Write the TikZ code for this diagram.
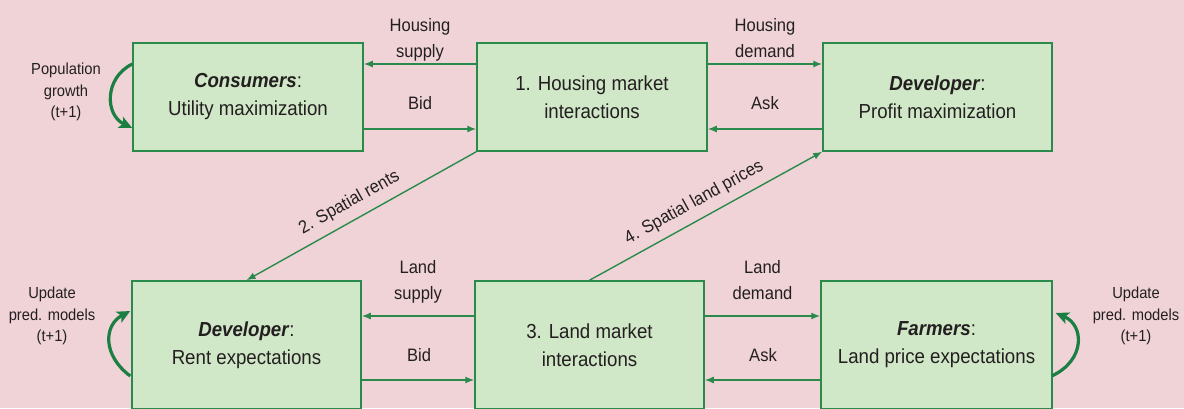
\documentclass[tikz,border=0pt]{standalone}
\usepackage{fontspec}
\setmainfont{Liberation Sans}[FakeStretch=0.92]
\usetikzlibrary{arrows.meta,calc}
\definecolor{bg}{HTML}{F0D3D7}
\definecolor{boxfill}{HTML}{D0E8C7}
\definecolor{boxline}{HTML}{2A8A4C}
\definecolor{loopc}{HTML}{1B7F42}
\definecolor{txt}{HTML}{231F20}
\begin{document}
\begin{tikzpicture}[x=1pt,y=-1pt,
  box/.style={draw=boxline, fill=boxfill, line width=1.5pt, minimum width=230pt,
    minimum height=108pt, inner sep=0pt, align=center,
    font=\fontsize{20.3}{28}\selectfont, text=txt},
  tallbox/.style={box, minimum height=128pt},
  conn/.style={draw=boxline, line width=1.4pt, -{Latex[length=9pt,width=7pt]}},
  loopar/.style={draw=loopc, line width=3.2pt, -{Stealth[length=13pt,width=12pt,inset=3pt]}},
  lbl/.style={font=\fontsize{18}{26}\selectfont, text=txt, align=center},
  side/.style={font=\fontsize{16}{21.5}\selectfont, text=txt, align=center, inner sep=0pt}]
\useasboundingbox (0,0) rectangle (1184,408);
\fill[bg] (0,0) rectangle (1184,408);
\clip (0,0) rectangle (1184,408);

% boxes
\node[box] (cons) at (248,97) {\textbf{\textit{Consumers}}:\\Utility maximization};
\node[box] (hm) at (592,97) {1. Housing market\\interactions};
\node[box, minimum width=229pt] (dev1) at (937.5,97) {\textbf{\textit{Developer}}:\\Profit maximization};
\node[tallbox, minimum width=229pt] (dev2) at (246.5,345) {\textbf{\textit{Developer}}:\\Rent expectations};
\node[tallbox, minimum width=229pt] (lm) at (589.5,345) {3. Land market\\interactions};
\node[tallbox, minimum width=231pt] (farm) at (936.5,345) {\textbf{\textit{Farmers}}:\\Land price expectations};

% levels
\coordinate (yA) at (0,64);
\coordinate (yB) at (0,129);
\coordinate (yC) at (0,316);
\coordinate (yD) at (0,380);

% top connectors
\draw[conn] (hm.west |- yA) -- node[lbl, above, inner sep=2pt] {Housing\\supply} (cons.east |- yA);
\draw[conn] (cons.east |- yB) -- (hm.west |- yB);
\node[lbl, anchor=base] (bid1) at (420,109) {Bid};
\draw[conn] (hm.east |- yA) -- node[lbl, above, inner sep=2pt] {Housing\\demand\vphantom{p}} (dev1.west |- yA);
\draw[conn] (dev1.west |- yB) -- (hm.east |- yB);
\node[lbl, anchor=base] (ask1) at (765,109) {Ask};

% bottom connectors
\draw[conn] (lm.west |- yC) -- node[lbl, above=10pt, inner sep=2pt] {Land\\supply} (dev2.east |- yC);
\draw[conn] (dev2.east |- yD) -- (lm.west |- yD);
\node[lbl, anchor=base] (bid2) at (419,361) {Bid};
\draw[conn] (lm.east |- yC) -- node[lbl, above=10pt, inner sep=2pt] {Land\\demand\vphantom{p}} (farm.west |- yC);
\draw[conn] (farm.west |- yD) -- (lm.east |- yD);
\node[lbl, anchor=base] (ask2) at (763,361) {Ask};

% diagonals
\draw[draw=boxline, line width=1.4pt, {Latex[length=9pt,width=7pt]}-] (dev2.north) --
  node[lbl, sloped, above=5pt, pos=0.485] {2. Spatial rents} (hm.south west);
\draw[conn] (lm.north) --
  node[lbl, sloped, above=5pt, pos=0.486] {4. Spatial land prices} (dev1.south west);

% loops
\draw[loopar] ([shift={(0,-33)}]cons.west) .. controls (104,78) and (105,115) .. ([shift={(0,31)}]cons.west);
\node[side] (popg) at (66,92) {Population\\growth\\(t+1)};
\draw[loopar] ([shift={(-1,31)}]dev2.west) .. controls (102,355) and (104,325) .. ([shift={(-1,-34)}]dev2.west);
\node[side] (upd1) at (52,316) {Update\\pred. models\\(t+1)};
\draw[loopar] ([shift={(-1,31)}]farm.east) .. controls (1086,360) and (1084,325) .. ([shift={(3,-32)}]farm.east);
\node[side] (upd2) at (1136,316) {Update\\pred. models\\(t+1)};
\end{tikzpicture}
\end{document}
